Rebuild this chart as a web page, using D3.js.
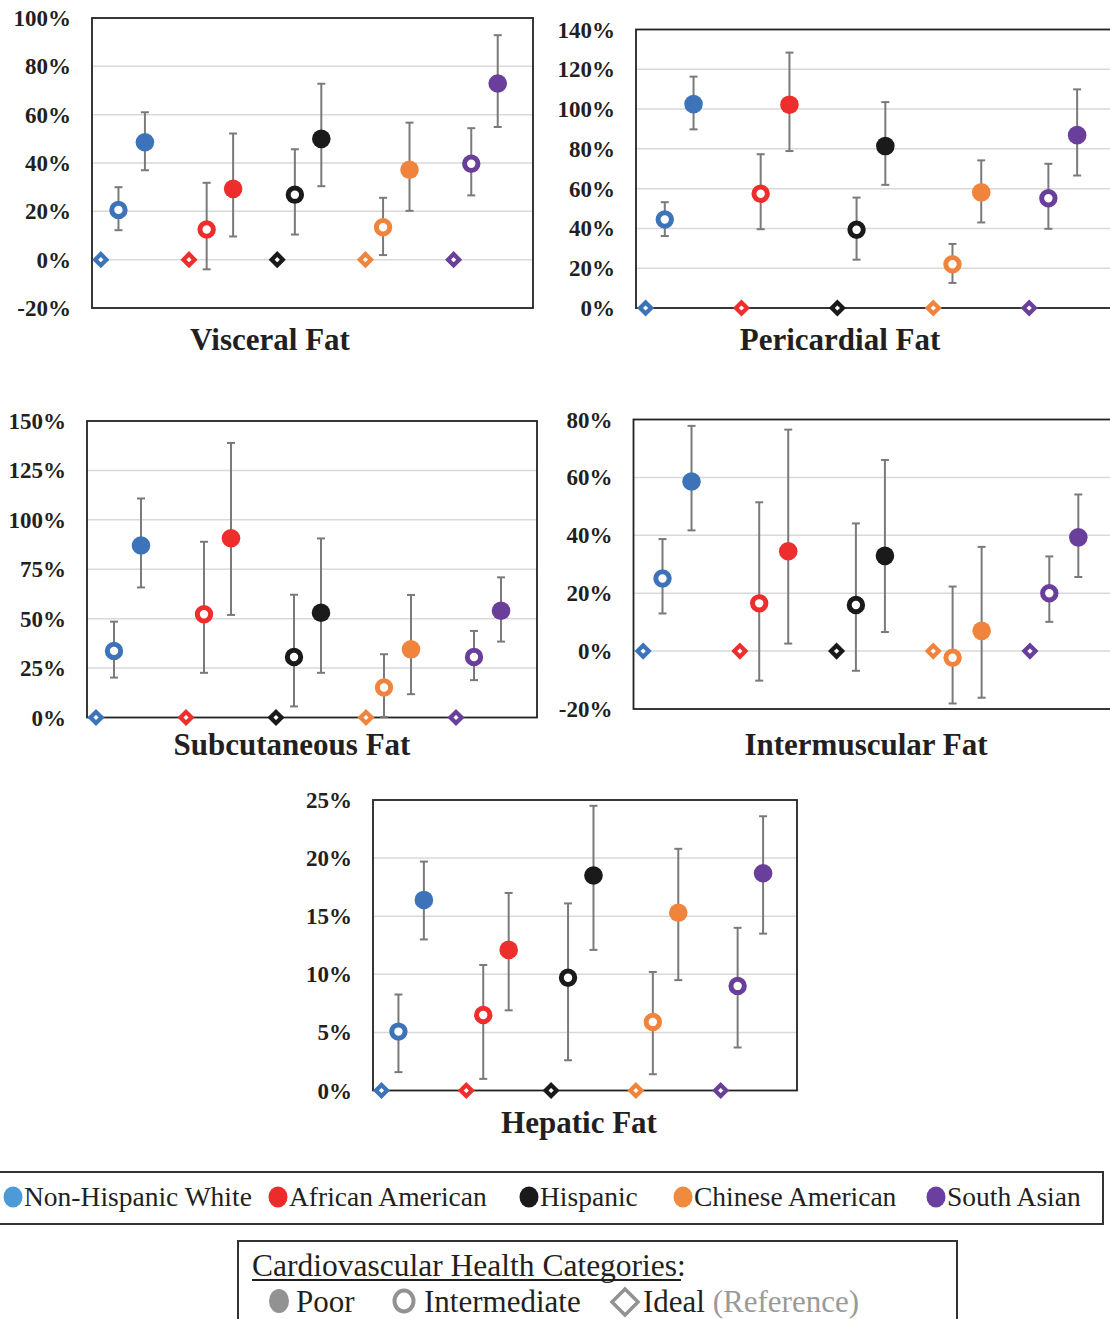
<!DOCTYPE html>
<html>
<head>
<meta charset="utf-8">
<script src="https://d3js.org/d3.v7.min.js"></script>
<style>
  body { margin: 0; background: #fff; }
  svg { display: block; }
</style>
</head>
<body>
<svg id="viz"></svg>
<script>
  var width = 1110;
  var height = 1319;

  var groups = ["Non-Hispanic White", "African American", "Hispanic", "Chinese American", "South Asian"];
  var colors = ["#3c73b9", "#ee2d2d", "#1a1a1a", "#f0843c", "#6a3f9b"];
  var legendColors = ["#4c9bd6", "#ee2a2a", "#1a1a1a", "#f08a3e", "#6b3fa0"];

  // [estimate, lower CI, upper CI] in %, one per group; ideal is the reference (0)
  var visceralInter = [[20.6, 12.2, 30.0], [12.5, -4.0, 31.8], [26.9, 10.4, 45.7], [13.4, 1.9, 25.6], [39.7, 26.6, 54.4]];
  var visceralPoor = [[48.6, 37.0, 61.0], [29.3, 9.6, 52.2], [50.0, 30.4, 72.8], [37.2, 20.2, 56.7], [72.9, 54.9, 92.9]];
  var visceralTicks = [-20, 0, 20, 40, 60, 80, 100];

  var pericardialInter = [[44.5, 36.2, 53.2], [57.4, 39.6, 77.3], [39.3, 24.3, 55.5], [22.0, 12.6, 32.2], [55.2, 39.8, 72.5]];
  var pericardialPoor = [[102.5, 89.8, 116.3], [102.2, 78.9, 128.4], [81.4, 61.9, 103.5], [58.1, 43.0, 74.2], [86.9, 66.6, 109.9]];
  var pericardialTicks = [0, 20, 40, 60, 80, 100, 120, 140];

  var subcutInter = [[33.7, 20.2, 48.5], [52.2, 22.6, 88.9], [30.6, 5.6, 62.1], [15.2, 0.3, 32.0], [30.6, 18.9, 43.8]];
  var subcutPoor = [[87.0, 65.8, 110.8], [90.7, 51.9, 138.9], [53.0, 22.6, 90.6], [34.5, 11.8, 62.0], [54.0, 38.4, 70.9]];
  var subcutTicks = [0, 25, 50, 75, 100, 125, 150];

  var intermuscInter = [[25.1, 13.0, 38.7], [16.5, -10.2, 51.4], [15.9, -6.8, 44.1], [-2.3, -18.1, 22.3], [20.0, 10.1, 32.7]];
  var intermuscPoor = [[58.6, 41.7, 77.8], [34.5, 2.6, 76.5], [32.9, 6.6, 66.0], [7.0, -16.1, 36.0], [39.3, 25.6, 54.1]];
  var intermuscTicks = [-20, 0, 20, 40, 60, 80];

  var hepaticInter = [[5.07, 1.58, 8.26], [6.5, 1.0, 10.8], [9.7, 2.6, 16.1], [5.9, 1.4, 10.2], [9.0, 3.7, 14.0]];
  var hepaticPoor = [[16.4, 13.0, 19.7], [12.1, 6.9, 17.0], [18.5, 12.1, 24.5], [15.3, 9.5, 20.8], [18.7, 13.5, 23.6]];
  var hepaticTicks = [0, 5, 10, 15, 20, 25];

  // x offsets within each group (in group units)
  var offsets = { ideal: 0.1, inter: 0.3, poor: 0.6 };

  var panels = [
    { title: "Visceral Fat", inter: visceralInter, poor: visceralPoor, ticks: visceralTicks, x0: 92, x1: 533, y0: 18, y1: 308, tx: 270, ty: 350 },
    { title: "Pericardial Fat", inter: pericardialInter, poor: pericardialPoor, ticks: pericardialTicks, x0: 636, x1: 1115.5, y0: 29.5, y1: 308, tx: 840, ty: 350 },
    { title: "Subcutaneous Fat", inter: subcutInter, poor: subcutPoor, ticks: subcutTicks, x0: 87, x1: 537, y0: 421, y1: 717.5, tx: 292, ty: 755 },
    { title: "Intermuscular Fat", inter: intermuscInter, poor: intermuscPoor, ticks: intermuscTicks, x0: 633.5, x1: 1117, y0: 419.5, y1: 709, tx: 866, ty: 755 },
    { title: "Hepatic Fat", inter: hepaticInter, poor: hepaticPoor, ticks: hepaticTicks, x0: 373, x1: 797, y0: 800, y1: 1090.5, tx: 579, ty: 1133 }
  ];

  var svg = d3.select("#viz").attr("width", width).attr("height", height);

  var diamond = "M0,-5.6L5.6,0L0,5.6L-5.6,0Z";
  var serif = "'Liberation Serif', 'Times New Roman', serif";

  panels.forEach(function(p) {
    var g = svg.append("g");
    var x = d3.scaleLinear().domain([0, groups.length]).range([p.x0, p.x1]);
    var y = d3.scaleLinear().domain(d3.extent(p.ticks)).range([p.y1, p.y0]);

    // gridlines (inner ticks only, edges are the frame)
    g.selectAll("line.grid")
      .data(p.ticks.slice(1, -1))
      .enter().append("line")
      .attr("class", "grid")
      .attr("x1", p.x0).attr("x2", p.x1)
      .attr("y1", function(d) { return y(d); })
      .attr("y2", function(d) { return y(d); })
      .attr("stroke", "#d9d9d9")
      .attr("stroke-width", 1.5);

    g.append("rect")
      .attr("x", p.x0).attr("y", p.y0)
      .attr("width", p.x1 - p.x0).attr("height", p.y1 - p.y0)
      .attr("fill", "none")
      .attr("stroke", "#222")
      .attr("stroke-width", 1.8);

    g.selectAll("text.tick")
      .data(p.ticks)
      .enter().append("text")
      .attr("class", "tick")
      .attr("x", p.x0 - 21)
      .attr("y", function(d) { return y(d); })
      .attr("dy", "0.35em")
      .attr("text-anchor", "end")
      .style("font-family", serif)
      .style("font-weight", "bold")
      .style("font-size", "23px")
      .style("fill", "#231f20")
      .text(function(d) { return d + "%"; });

    // error bars
    ["inter", "poor"].forEach(function(k) {
      var rows = p[k].map(function(v, i) { return { i: i, v: v }; });
      var eb = g.append("g").selectAll("g").data(rows).enter().append("g")
        .attr("stroke", "#7a7a7a").attr("stroke-width", 2);
      eb.append("line")
        .attr("x1", function(d) { return x(d.i + offsets[k]); })
        .attr("x2", function(d) { return x(d.i + offsets[k]); })
        .attr("y1", function(d) { return y(d.v[1]); })
        .attr("y2", function(d) { return y(d.v[2]); });
      [1, 2].forEach(function(j) {
        eb.append("line")
          .attr("x1", function(d) { return x(d.i + offsets[k]) - 4; })
          .attr("x2", function(d) { return x(d.i + offsets[k]) + 4; })
          .attr("y1", function(d) { return y(d.v[j]); })
          .attr("y2", function(d) { return y(d.v[j]); });
      });
    });

    // ideal (reference) diamonds at 0
    g.selectAll("path.ideal")
      .data(groups)
      .enter().append("path")
      .attr("class", "ideal")
      .attr("d", diamond)
      .attr("transform", function(d, i) { return "translate(" + x(i + offsets.ideal) + "," + y(0) + ")"; })
      .attr("fill", "#fff")
      .attr("stroke", function(d, i) { return colors[i]; })
      .attr("stroke-width", 4.2);

    g.selectAll("circle.inter")
      .data(p.inter)
      .enter().append("circle")
      .attr("class", "inter")
      .attr("cx", function(d, i) { return x(i + offsets.inter); })
      .attr("cy", function(d) { return y(d[0]); })
      .attr("r", 6.7)
      .attr("fill", "#fff")
      .attr("stroke", function(d, i) { return colors[i]; })
      .attr("stroke-width", 5);

    g.selectAll("circle.poor")
      .data(p.poor)
      .enter().append("circle")
      .attr("class", "poor")
      .attr("cx", function(d, i) { return x(i + offsets.poor); })
      .attr("cy", function(d) { return y(d[0]); })
      .attr("r", 9.3)
      .attr("fill", function(d, i) { return colors[i]; });

    g.append("text")
      .attr("x", p.tx).attr("y", p.ty)
      .attr("text-anchor", "middle")
      .style("font-family", serif)
      .style("font-weight", "bold")
      .style("font-size", "31px")
      .style("fill", "#231f20")
      .text(p.title);
  });

  // group legend
  var legendX = [13, 278, 529, 683, 936];
  var leg = svg.append("g");
  leg.append("rect")
    .attr("x", -2).attr("y", 1172).attr("width", 1105).attr("height", 52)
    .attr("fill", "none").attr("stroke", "#333").attr("stroke-width", 2);
  var items = leg.selectAll("g.item").data(groups).enter().append("g")
    .attr("transform", function(d, i) { return "translate(" + legendX[i] + ",1197)"; });
  items.append("ellipse")
    .attr("rx", 9.5).attr("ry", 10.5)
    .attr("fill", function(d, i) { return legendColors[i]; });
  items.append("text")
    .attr("x", 11).attr("y", 9)
    .style("font-family", serif)
    .style("font-size", "27.5px")
    .style("fill", "#231f20")
    .text(function(d) { return d; });

  // category legend
  var cat = svg.append("g").style("font-family", serif);
  cat.append("rect")
    .attr("x", 238).attr("y", 1241).attr("width", 719).attr("height", 90)
    .attr("fill", "none").attr("stroke", "#333").attr("stroke-width", 2);
  cat.append("text")
    .attr("x", 252).attr("y", 1276)
    .style("font-size", "31.5px").style("fill", "#231f20")
    .text("Cardiovascular Health Categories:");
  cat.append("line")
    .attr("x1", 252).attr("x2", 681).attr("y1", 1280).attr("y2", 1280)
    .attr("stroke", "#231f20").attr("stroke-width", 2);
  cat.append("ellipse")
    .attr("cx", 279).attr("cy", 1301).attr("rx", 10).attr("ry", 12)
    .attr("fill", "#929292");
  cat.append("text").attr("x", 296).attr("y", 1312)
    .style("font-size", "31px").style("fill", "#231f20").text("Poor");
  cat.append("ellipse")
    .attr("cx", 404).attr("cy", 1301).attr("rx", 9.5).attr("ry", 10.5)
    .attr("fill", "#fff").attr("stroke", "#929292").attr("stroke-width", 4);
  cat.append("text").attr("x", 424).attr("y", 1312)
    .style("font-size", "31px").style("fill", "#231f20").text("Intermediate");
  cat.append("path")
    .attr("d", "M0,-13L13,0L0,13L-13,0Z")
    .attr("transform", "translate(625,1302)")
    .attr("fill", "#fff").attr("stroke", "#929292").attr("stroke-width", 3.5);
  var ideal = cat.append("text").attr("x", 643).attr("y", 1312).style("font-size", "31px");
  ideal.append("tspan").style("fill", "#231f20").text("Ideal ");
  ideal.append("tspan").style("fill", "#9a9a9a").text("(Reference)");
</script>
</body>
</html>
